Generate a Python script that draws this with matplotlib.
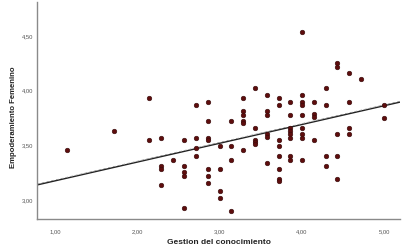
import matplotlib
matplotlib.use("Agg")
import matplotlib.pyplot as plt
from matplotlib.ticker import FuncFormatter, FixedLocator

# x values (Gestion del conocimiento), grouped per column
gestion = (
    [8/7] * 1 + [12/7] * 1 + [15/7] * 2 + [16/7] * 4 + [17/7] * 1 + [18/7] * 5 +
    [19/7] * 4 + [20/7] * 7 + [21/7] * 4 + [22/7] * 4 + [23/7] * 6 + [24/7] * 5 +
    [25/7] * 6 + [26/7] * 8 + [27/7] * 8 + [28/7] * 9 + [29/7] * 4 + [30/7] * 4 +
    [31/7] * 5 + [32/7] * 4 + [33/7] * 1 + [35/7] * 2
)
empoderamiento = [
    3.45,
    3.62,
    3.92, 3.54,
    3.56, 3.30, 3.27, 3.13,
    3.36,
    3.54, 3.30, 3.25, 3.21, 2.92,
    3.86, 3.56, 3.47, 3.39,
    3.89, 3.71, 3.56, 3.54, 3.27, 3.21, 3.15,
    3.48, 3.27, 3.07, 3.01,
    3.71, 3.48, 3.36, 2.89,
    3.92, 3.80, 3.77, 3.71, 3.69, 3.45,
    4.01, 3.65, 3.54, 3.52, 3.50,
    3.95, 3.80, 3.77, 3.59, 3.57, 3.33,
    3.92, 3.86, 3.54, 3.48, 3.39, 3.27, 3.18, 3.16,
    3.89, 3.77, 3.65, 3.62, 3.59, 3.56, 3.39, 3.36,
    4.53, 3.95, 3.89, 3.86, 3.77, 3.65, 3.59, 3.56, 3.36,
    3.89, 3.78, 3.75, 3.54,
    4.01, 3.86, 3.39, 3.30,
    4.24, 4.21, 3.59, 3.39, 3.18,
    4.15, 3.89, 3.65, 3.59,
    4.10,
    3.86, 3.74,
]

# linear fit line (intercept, slope)
fit_intercept = 2.994
fit_slope = 0.1717

x_ticks = [1.0, 2.0, 3.0, 4.0, 5.0]
y_ticks = [3.0, 3.5, 4.0, 4.5]
x_lim = (0.78, 5.19)
y_lim = (2.817, 4.80)

plt.rcParams['font.family'] = ['Liberation Sans', 'DejaVu Sans']

fig = plt.figure(figsize=(4.04, 2.53), dpi=100)
ax = fig.add_axes([37/404, 1 - 220/253, (400 - 37)/404, (220 - 3)/253])

ax.scatter(gestion, empoderamiento, s=11, facecolor='#5e0d0d', edgecolor='#350a0a',
           linewidths=0.4, zorder=3)

xs = [x_lim[0], x_lim[1]]
ys = [fit_intercept + fit_slope * v for v in xs]
ax.plot(xs, ys, color='#222222', lw=1.0, zorder=2)
ax.plot(xs, [v + 0.008 for v in ys], color='#888888', lw=0.5, ls=(0, (4, 3)), zorder=2)

ax.set_xlim(*x_lim)
ax.set_ylim(*y_lim)
ax.xaxis.set_major_locator(FixedLocator(x_ticks))
ax.yaxis.set_major_locator(FixedLocator(y_ticks))
fmt = FuncFormatter(lambda v, p: f"{v:.2f}".replace('.', ','))
ax.xaxis.set_major_formatter(fmt)
ax.yaxis.set_major_formatter(fmt)
ax.tick_params(axis='both', length=0, labelsize=4.2, labelcolor='#555555')
ax.tick_params(axis='x', pad=6.5)
ax.tick_params(axis='y', pad=3)

for side in ('top', 'right'):
    ax.spines[side].set_visible(False)
for side in ('left', 'bottom'):
    ax.spines[side].set_color('#8a8a8a')
    ax.spines[side].set_linewidth(1.0)

ax.set_xlabel('Gestion del conocimiento', fontsize=6.0, fontweight='bold', color='#222222')
ax.set_ylabel('Empoderamiento Femenino', fontsize=5.6, fontweight='bold', color='#222222')
ax.xaxis.set_label_coords(0.5, -(239 - 220) / 217)
ax.yaxis.set_label_coords((17 - 37) / 363, (220 - 117) / 217)

fig.savefig('out.png', dpi=100, facecolor='white')
